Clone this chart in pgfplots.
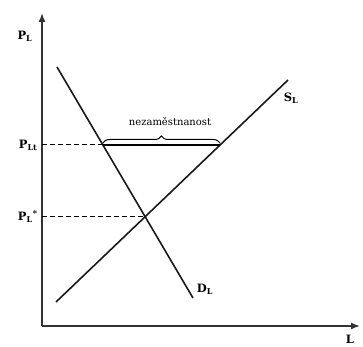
\documentclass[border=0pt]{standalone}
\usepackage{fontspec}
\setmainfont{DejaVu Serif}
\usepackage{pgfplots}
\pgfplotsset{compat=1.18}
\usetikzlibrary{arrows.meta,decorations.pathreplacing}

\begin{document}
\begin{tikzpicture}
\begin{axis}[
    x=1pt, y=1pt,
    xmin=0, xmax=318, ymin=0, ymax=313,
    axis lines=left,
    axis line style={black!80, line width=1.5pt, -{Latex[length=9pt,width=7pt]}},
    xtick=\empty, ytick=\empty,
    clip=false,
]
    % page frame (keeps the reference proportions)
    \path (axis cs:-42,-19) rectangle (axis cs:321,326);

    % demand for labour
    \addplot[black!90, line width=1.6pt] coordinates {(15,259) (151,28)};
    % supply of labour
    \addplot[black!90, line width=1.6pt] coordinates {(14,24) (246,246)};

    % price levels
    \addplot[black, line width=1pt, dash pattern=on 5pt off 3pt] coordinates {(0,181) (60.9,181)};
    \addplot[black, line width=1pt, dash pattern=on 5pt off 3pt] coordinates {(0,109.3) (103.1,109.3)};
    \addplot[black, line width=1.3pt] coordinates {(60.9,181) (178,181)};

    % unemployment brace
    \draw[black, line width=1pt, decorate,
          decoration={brace, amplitude=7pt, raise=2pt}]
        (axis cs:60.9,181) -- (axis cs:178,181);
    \node[font=\fontsize{10}{12}\selectfont] at (axis cs:128,204) {nezaměstnanost};

    % labels
    \node[font=\fontsize{11.5}{14}\selectfont\bfseries] at (axis cs:-17,290) {P\textsubscript{L}};
    \node[font=\fontsize{11.5}{14}\selectfont\bfseries, anchor=east] at (axis cs:-1,181) {P\textsubscript{Lt}};
    \node[font=\fontsize{11.5}{14}\selectfont\bfseries, anchor=east] at (axis cs:-1,109.3) {P\textsubscript{L}\textsuperscript{*}};
    \node[font=\fontsize{11.5}{14}\selectfont\bfseries] at (axis cs:249,228) {S\textsubscript{L}};
    \node[font=\fontsize{11.5}{14}\selectfont\bfseries] at (axis cs:163,37) {D\textsubscript{L}};
    \node[font=\fontsize{11.5}{14}\selectfont\bfseries] at (axis cs:308,-13) {L};
\end{axis}
\end{tikzpicture}
\end{document}
